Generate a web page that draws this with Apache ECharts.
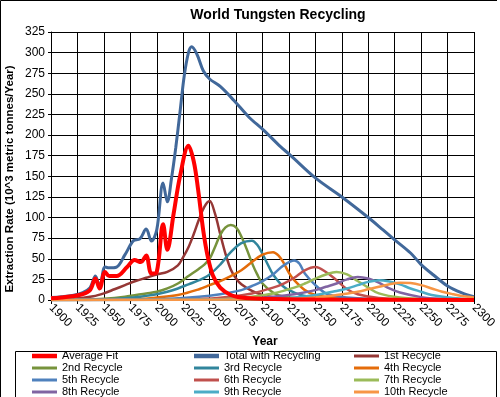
<!DOCTYPE html>
<html>
<head>
<meta charset="utf-8">
<script src="https://cdn.jsdelivr.net/npm/echarts@6/dist/echarts.min.js"></script>
<style>
  html,body{margin:0;padding:0;background:#fff;}
  #chart{width:500px;height:397px;}
</style>
</head>
<body>
<div id="chart"></div>
<script>
// values: [year, 10^3 t/yr]
var avgFit = [[1900,2],[1910,3],[1920,4.5],[1930,7],[1937,12],[1942,26],[1946,14],[1951,34],[1955,29],[1962,29],[1972,40],[1979,48.5],[1985,46],[1990,54],[1995,32],[2000,34],[2006,92],[2010,61],[2016,105],[2022,150],[2030,187],[2035,168],[2039,135],[2044,84],[2048,54],[2053,30],[2060,15],[2070,6],[2080,3],[2100,1.5],[2150,0.5],[2300,0]];
var totalRec = [[1900,3],[1910,4],[1920,5.5],[1930,9],[1937,15],[1942,29],[1946,16],[1951,40],[1955,39],[1962,40],[1970,55],[1978,72],[1984,74],[1990,86],[1995,71.5],[2000,85],[2006,142],[2010,119],[2014,148],[2018,185],[2022,228],[2026,272],[2030,300],[2033,307],[2038,298],[2044,278],[2050,268],[2060,259],[2073,242],[2087,222],[2101,206],[2117,186],[2126,176],[2150,148],[2176,124],[2200,100],[2214,85],[2225,73],[2240,57],[2250,43],[2262,30],[2275,17],[2288,9],[2300,4]];
var rec1 = [[1900,0.5],[1920,1.5],[1940,4.5],[1950,8],[1960,13],[1970,18],[1980,23],[1990,27],[2000,31],[2010,34],[2020,42],[2025,52],[2030,64],[2035,80],[2040,98],[2045,113],[2050,120],[2055,105],[2060,80],[2065,56],[2070,37],[2075,26],[2080,19],[2090,11],[2100,6],[2110,3.5],[2120,2],[2140,0.7],[2170,0.3],[2300,0]];
var rec2 = [[1900,0],[1930,0.5],[1950,1.5],[1970,4],[1990,8],[2000,10],[2010,14],[2020,20],[2030,29],[2040,38],[2045,43],[2050,50],[2055,64],[2060,79],[2065,88],[2070,91],[2075,88],[2080,77],[2085,62],[2090,45],[2095,31],[2100,20],[2110,9],[2120,4],[2140,1.5],[2170,0.5],[2300,0]];
var rec3 = [[1900,0],[1950,0.5],[1970,2],[1990,5],[2000,7],[2010,10],[2020,14],[2030,19],[2040,24],[2050,31],[2060,43],[2070,58],[2080,69],[2090,72],[2095,67],[2100,56],[2105,43],[2110,31],[2120,16],[2130,9],[2140,5],[2160,1.5],[2200,0.5],[2300,0]];
var rec4 = [[1900,0],[1980,1],[2000,3],[2020,6],[2040,13],[2050,18],[2060,23],[2070,29],[2080,36],[2090,46],[2100,55],[2110,58],[2115,54],[2120,45],[2125,33],[2130,24],[2140,12],[2150,6],[2160,3.5],[2180,1.5],[2220,0.5],[2300,0]];
var rec5 = [[1900,0],[2000,1],[2040,4],[2060,7],[2080,12],[2090,17],[2100,23],[2110,31],[2120,42],[2130,48],[2135,44],[2140,32],[2150,18],[2160,8],[2170,4.5],[2190,2],[2230,0.5],[2300,0]];
var rec6 = [[1900,0],[2040,1],[2070,4],[2090,8],[2110,15],[2120,20],[2130,27],[2140,36],[2150,40],[2160,34],[2170,24],[2180,13],[2190,7],[2210,2.5],[2250,0.5],[2300,0]];
var rec7 = [[1900,0],[2060,1],[2090,4],[2110,8],[2130,15],[2140,20],[2150,26],[2160,31],[2170,34],[2180,31],[2190,23],[2200,15],[2210,8],[2230,3],[2260,1],[2300,0.3]];
var rec8 = [[1900,0],[2080,1],[2110,4],[2130,7],[2150,12],[2160,16],[2170,20],[2180,25],[2190,28],[2200,26],[2210,21],[2220,14],[2230,9],[2250,3.5],[2270,1.5],[2300,0.5]];
var rec9 = [[1900,0],[2100,1],[2130,3],[2150,6],[2170,11],[2180,14],[2190,18],[2200,22],[2210,24],[2220,22.5],[2230,19],[2240,14],[2250,10],[2260,6],[2280,2.5],[2300,1]];
var rec10 = [[1900,0],[2120,1],[2150,3],[2170,6],[2190,10],[2200,13],[2210,16],[2220,19],[2230,21],[2240,20.5],[2250,18],[2260,14],[2270,10],[2280,7],[2290,4.5],[2300,3]];

var names = ['Average Fit','Total with Recycling','1st Recycle','2nd Recycle','3rd Recycle','4th Recycle','5th Recycle','6th Recycle','7th Recycle','8th Recycle','9th Recycle','10th Recycle'];
var datas = [avgFit,totalRec,rec1,rec2,rec3,rec4,rec5,rec6,rec7,rec8,rec9,rec10];
var colors = ['#FF0000','#41689A','#953735','#77933C','#31859C','#E46C0A','#4F81BD','#C0504D','#9BBB59','#8064A2','#4BACC6','#F79646'];

var FONT = 'Arial, "Liberation Sans", sans-serif';
var THICK = 'path://M0,0H25V4.5H0Z';
var THIN = 'path://M0,0H25V3H0Z';

var series = [];
for (var i = 0; i < names.length; i++) {
  series.push({
    name: names[i],
    type: 'line',
    data: datas[i],
    smooth: 0.35,
    symbol: 'none',
    z: i === 0 ? 4 : 2,
    lineStyle: {color: colors[i], width: i === 0 ? 4 : (i === 1 ? 3 : 2.5)},
    itemStyle: {color: colors[i]}
  });
}

function legendCol(left, items) {
  return {
    orient: 'vertical',
    left: left,
    top: 350,
    height: 100,
    itemWidth: 25,
    itemHeight: 12,
    itemGap: 0,
    padding: 0,
    symbolKeepAspect: true,
    data: items.map(function (n) { return {name: n, icon: n === 'Average Fit' || n === 'Total with Recycling' ? THICK : THIN}; }),
    textStyle: {fontFamily: FONT, fontSize: 11, color: '#000', lineHeight: 12}
  };
}

var chart = echarts.init(document.getElementById('chart'));
chart.setOption({
  animation: false,
  color: colors,
  grid: {left: 51, right: 26, top: 32, bottom: 97},
  legend: [
    legendCol(32, ['Average Fit','2nd Recycle','5th Recycle','8th Recycle']),
    legendCol(194, ['Total with Recycling','3rd Recycle','6th Recycle','9th Recycle']),
    legendCol(354, ['1st Recycle','4th Recycle','7th Recycle','10th Recycle'])
  ],
  xAxis: {
    type: 'value',
    min: 1900, max: 2300, interval: 25,
    axisLine: {lineStyle: {color: '#000'}},
    axisTick: {show: true, length: 4, lineStyle: {color: '#000'}},
    splitLine: {show: true, lineStyle: {color: '#000', width: 1}},
    axisLabel: {rotate: -45, fontFamily: FONT, fontSize: 12, color: '#000', margin: 6,
      formatter: function (v) { return String(v); }}
  },
  yAxis: {
    type: 'value',
    min: 0, max: 325, interval: 25,
    axisLine: {show: true, lineStyle: {color: '#000'}},
    axisTick: {show: true, length: 3, lineStyle: {color: '#000'}},
    splitLine: {show: true, lineStyle: {color: '#000', width: 1}},
    axisLabel: {fontFamily: FONT, fontSize: 12, color: '#000', margin: 6}
  },
  graphic: [
    {type: 'polyline', shape: {points: [[0.5,397],[0.5,0.5],[497,0.5]]}, style: {stroke: '#000', fill: null, lineWidth: 1}},
    {type: 'polyline', shape: {points: [[15.5,397],[15.5,351.5],[496.5,351.5],[496.5,397]]}, style: {stroke: '#000', fill: null, lineWidth: 1}},
    {type: 'text', x: 278, y: 15, style: {text: 'World Tungsten Recycling', font: 'bold 14px ' + FONT, fill: '#000', textAlign: 'center', textVerticalAlign: 'middle'}},
    {type: 'text', x: 10, y: 179, rotation: Math.PI / 2, style: {text: 'Extraction Rate (10^3 metric tonnes/Year)', font: 'bold 11.5px ' + FONT, fill: '#000', textAlign: 'center', textVerticalAlign: 'middle'}},
    {type: 'text', x: 265, y: 342, style: {text: 'Year', font: 'bold 12px ' + FONT, fill: '#000', textAlign: 'center', textVerticalAlign: 'middle'}}
  ],
  series: series
});
</script>
</body>
</html>
